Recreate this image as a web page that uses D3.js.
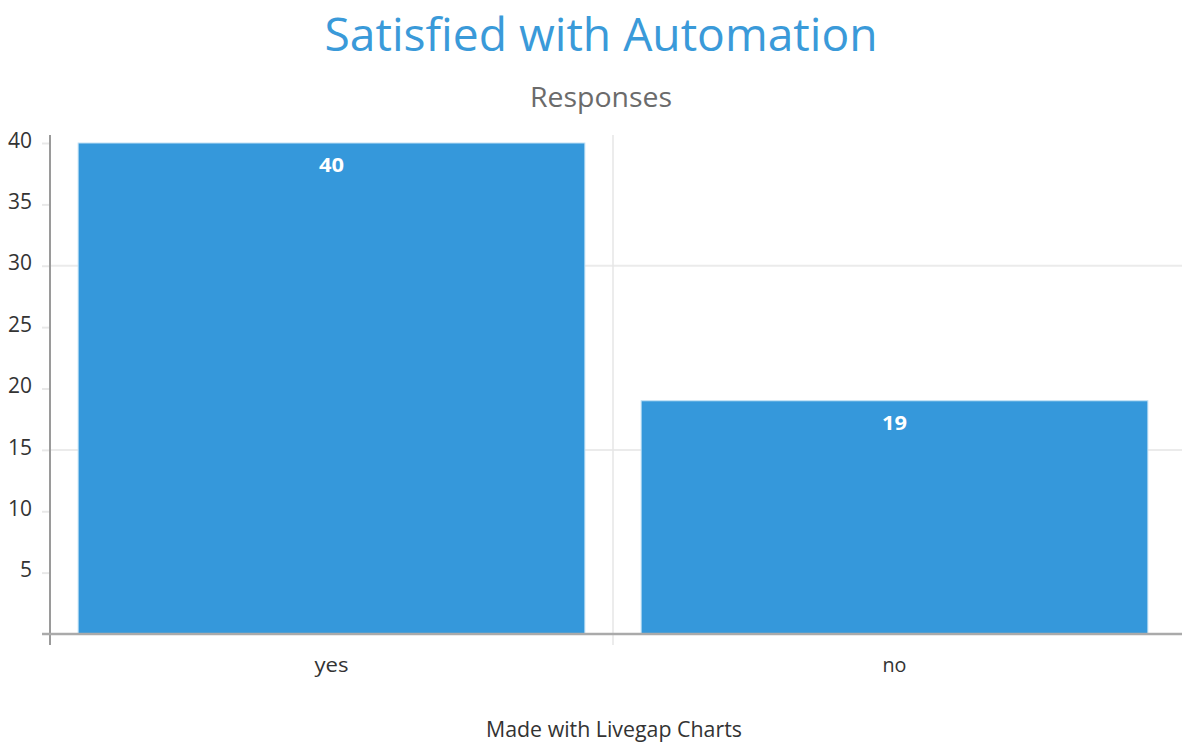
<!DOCTYPE html>
<html>
<head>
<meta charset="utf-8">
<script src="https://cdn.jsdelivr.net/npm/d3@7"></script>
<style>
  html, body { margin: 0; padding: 0; background: #fff; }
  svg { display: block; font-family: "Open Sans", "Noto Sans", sans-serif; }
</style>
</head>
<body>
<svg id="chart" width="1182" height="745"></svg>
<script>
const categories = ["yes", "no"];
const values = [40, 19];
const yTicks = [5, 10, 15, 20, 25, 30, 35, 40];
const gridValues = [15, 30];
const titleText = "Satisfied with Automation";
const subtitleText = "Responses";
const footerText = "Made with Livegap Charts";

const svg = d3.select("#chart");
const W = 1182, H = 745;
const plotL = 50, plotR = 1176, plotT = 143, plotB = 634;

const x = d3.scaleBand().domain(categories).range([plotL, plotR]).paddingInner(0).paddingOuter(0);
const y = d3.scaleLinear().domain([0, 40]).range([plotB, plotT]);
const barPad = x.bandwidth() * 0.05;

// title
svg.append("text").attr("x", 601).attr("y", 51).attr("text-anchor", "middle")
  .attr("font-size", 46).attr("fill", "#3a9ad9")
  .attr("textLength", 553).attr("lengthAdjust", "spacingAndGlyphs")
  .text(titleText);
svg.append("text").attr("x", 601).attr("y", 107).attr("text-anchor", "middle")
  .attr("font-size", 27).attr("fill", "#6b6b6b")
  .attr("textLength", 142).attr("lengthAdjust", "spacingAndGlyphs")
  .text(subtitleText);

// grid lines
svg.append("g").selectAll("line").data(gridValues).join("line")
  .attr("x1", plotL).attr("x2", W)
  .attr("y1", d => y(d)).attr("y2", d => y(d))
  .attr("stroke", "#ebebeb").attr("stroke-width", 2);

// vertical grid line between categories
svg.append("line")
  .attr("x1", x("no")).attr("x2", x("no"))
  .attr("y1", 135).attr("y2", 645)
  .attr("stroke", "#e6e6e6").attr("stroke-width", 1.5);

// bars
svg.append("g").selectAll("rect").data(values).join("rect")
  .attr("x", (d, i) => x(categories[i]) + barPad)
  .attr("width", x.bandwidth() - 2 * barPad)
  .attr("y", d => y(d))
  .attr("height", d => y(0) - y(d))
  .attr("fill", "#3598db")
  .attr("stroke", "#bfe0f5").attr("stroke-width", 1);

// value labels
svg.append("g").selectAll("text").data(values).join("text")
  .attr("x", (d, i) => x(categories[i]) + x.bandwidth() / 2)
  .attr("y", d => y(d) + 29)
  .attr("text-anchor", "middle")
  .attr("font-size", 20).attr("font-weight", "bold").attr("fill", "#fff")
  .attr("textLength", d => String(d).length * 12.5).attr("lengthAdjust", "spacingAndGlyphs")
  .text(d => d);

// y axis
const yAxis = d3.axisLeft(y).tickValues(yTicks).tickSize(8).tickPadding(10).tickFormat(d3.format("d"));
const gy = svg.append("g").attr("transform", `translate(${plotL},0)`).call(yAxis);
gy.select(".domain").remove();
gy.selectAll(".tick line").attr("stroke", "#e8e8e8").attr("stroke-width", 2);
gy.selectAll(".tick text").attr("font-size", 21).attr("fill", "#333")
  .attr("font-family", "'Open Sans', sans-serif").attr("dy", "0.2em")
  .attr("textLength", d => String(d).length * 12).attr("lengthAdjust", "spacingAndGlyphs");
svg.append("line").attr("x1", plotL).attr("x2", plotL).attr("y1", 135).attr("y2", 645)
  .attr("stroke", "#9a9a9a").attr("stroke-width", 2);

// x axis
svg.append("line").attr("x1", 42).attr("x2", W).attr("y1", plotB).attr("y2", plotB)
  .attr("stroke", "#aaaaaa").attr("stroke-width", 2.5);
const xAxis = d3.axisBottom(x).tickSize(0).tickPadding(24);
const gx = svg.append("g").attr("transform", `translate(0,${plotB})`).call(xAxis);
gx.select(".domain").remove();
gx.selectAll(".tick text").attr("font-size", 20).attr("fill", "#333")
  .attr("font-family", "'Open Sans', sans-serif")
  .attr("textLength", d => d === "yes" ? 34 : 24).attr("lengthAdjust", "spacingAndGlyphs");

// footer
svg.append("text").attr("x", 614).attr("y", 737).attr("text-anchor", "middle")
  .attr("font-size", 21).attr("fill", "#333")
  .attr("textLength", 256).attr("lengthAdjust", "spacingAndGlyphs")
  .text(footerText);
</script>
</body>
</html>
